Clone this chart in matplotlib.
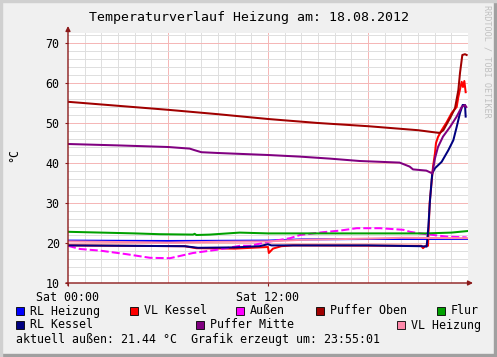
import matplotlib
matplotlib.use("Agg")
import matplotlib.pyplot as plt
from matplotlib.patches import Rectangle
import numpy as np

# hours since Sat 00:00 and temperatures (°C)
rl_heizung_t = [0, 6, 12, 14, 18, 24]
rl_heizung_v = [20.6, 20.5, 20.6, 20.9, 21.0, 21.0]

vl_kessel_t = [0, 7, 7.7, 10, 12, 12.05, 12.3, 12.8, 13.5, 21.2, 21.3, 21.45, 21.6,
               21.7, 21.9, 22.02, 22.08, 22.2, 22.42, 22.72, 23.02, 23.32, 23.42,
               23.62, 23.7, 23.78, 23.86]
vl_kessel_v = [19.4, 19.2, 18.7, 18.6, 19.0, 17.5, 18.6, 19.2, 19.4, 19.3, 18.7, 19.3,
               19.3, 30.0, 39.0, 42.5, 45.0, 46.5, 48.2, 50.2, 52.5, 54.0, 56.5,
               60.3, 59.0, 60.5, 57.7]

aussen_t = [0, 0.72, 1.92, 3.52, 4.92, 6.12, 7.5, 8.92, 10.32, 10.92, 12.02, 13.32,
            13.92, 15.3, 16.32, 17.32, 18.72, 20.12, 20.52, 21.12, 22.12, 22.72, 23.92]
aussen_v = [19.3, 18.5, 18.1, 17.2, 16.3, 16.2, 17.5, 18.3, 19.3, 19.3, 20.3, 21.2,
            22.0, 22.7, 23.1, 23.7, 23.7, 23.3, 22.8, 22.4, 21.9, 21.6, 21.4]

puffer_oben_t = [0, 3, 6, 9, 12, 15, 18, 21, 22.3, 22.52, 22.92, 23.22, 23.42, 23.52,
                 23.66, 23.82, 23.92]
puffer_oben_v = [55.3, 54.3, 53.3, 52.2, 51.0, 50.0, 49.2, 48.2, 47.5, 48.2, 51.2,
                 53.7, 58.2, 62.5, 67.0, 67.2, 67.0]

flur_t = [0, 2, 4, 5.5, 7.5, 7.6, 7.7, 8.5, 10.3, 12, 18, 21.5, 23, 24]
flur_v = [22.8, 22.6, 22.4, 22.2, 22.1, 22.3, 22.0, 22.1, 22.6, 22.4, 22.4, 22.4, 22.6, 23.0]

rl_kessel_t = [0, 7, 7.8, 10, 11.5, 12, 12.2, 18, 21.2, 21.52, 21.62, 21.72, 21.82,
               21.86, 22.02, 22.42, 22.82, 23.12, 23.32, 23.52, 23.68, 23.82, 23.86]
rl_kessel_v = [19.4, 19.2, 18.8, 18.9, 19.2, 19.7, 19.4, 19.4, 19.2, 19.1, 24.0, 30.7,
               35.8, 37.5, 38.7, 40.3, 43.2, 45.7, 49.0, 52.5, 54.5, 54.5, 51.6]

puffer_mitte_t = [0, 3, 6, 7.3, 7.6, 8.0, 9, 12, 13.9, 15.7, 17.5, 19.9, 20.5, 20.7,
                  21.5, 21.86, 22.02, 22.2, 22.5, 22.92, 23.32, 23.62, 23.82, 23.9]
puffer_mitte_v = [44.75, 44.4, 44.0, 43.6, 43.2, 42.7, 42.5, 42.0, 41.6, 41.1, 40.5,
                  40.1, 39.1, 38.4, 38.1, 37.4, 41.2, 44.0, 46.6, 49.0, 51.6, 54.0, 54.5, 54.0]

vl_heizung_t = [0, 6, 9, 12, 14, 18, 20, 24]
vl_heizung_v = [20.4, 20.1, 20.3, 20.4, 20.8, 21.1, 21.3, 21.2]

series = [
    ("RL Heizung", rl_heizung_t, rl_heizung_v, "#0000ff"),
    ("VL Kessel", vl_kessel_t, vl_kessel_v, "#ff0000"),
    ("Außen", aussen_t, aussen_v, "#ff00ff"),
    ("Puffer Oben", puffer_oben_t, puffer_oben_v, "#a00000"),
    ("Flur", flur_t, flur_v, "#00a000"),
    ("RL Kessel", rl_kessel_t, rl_kessel_v, "#000080"),
    ("Puffer Mitte", puffer_mitte_t, puffer_mitte_v, "#800080"),
    ("VL Heizung", vl_heizung_t, vl_heizung_v, "#ff88aa"),
]

x_tick_pos = [0, 12]
x_tick_labels = ["Sat 00:00", "Sat 12:00"]
y_ticks = [10, 20, 30, 40, 50, 60, 70]

W, H = 497, 357
MONO = "DejaVu Sans Mono"
FS = 8.4
AXIS_COL = "#8b1a1a"

fig = plt.figure(figsize=(W / 100, H / 100), dpi=100, facecolor="#f0f0f0")

# 3d-ish frame
fig.patches.append(Rectangle((0, 0), 1, 3 / H, transform=fig.transFigure,
                             color="#a0a0a0", zorder=0))
fig.patches.append(Rectangle((1 - 3 / W, 0), 3 / W, 1, transform=fig.transFigure,
                             color="#a0a0a0", zorder=0))
fig.patches.append(Rectangle((0, 1 - 2 / H), 1, 2 / H, transform=fig.transFigure,
                             color="#d0d0d0", zorder=0))
fig.patches.append(Rectangle((0, 0), 2 / W, 1, transform=fig.transFigure,
                             color="#d0d0d0", zorder=0))

ax = fig.add_axes([68 / W, (H - 283) / H, 400 / W, (283 - 33) / H])
ax.set_facecolor("white")
ax.set_xlim(0, 24)
ax.set_ylim(10, 72.5)

# grid
for h in range(1, 24):
    col = "#f5b5b5" if h % 6 == 0 else "#dedede"
    ax.axvline(h, color=col, lw=0.7, zorder=1)
for v in np.arange(12, 73, 2):
    col = "#f5b5b5" if v % 10 == 0 else "#dedede"
    ax.axhline(v, color=col, lw=0.7, zorder=1)

for name, t, v, c in series:
    if name == "Außen":
        ax.plot(t, v, color=c, lw=1.45, ls=(0, (4, 1.5)), zorder=3)
    else:
        ax.plot(t, v, color=c, lw=1.45, zorder=3)

for s in ax.spines.values():
    s.set_visible(False)

ax.set_xticks(x_tick_pos)
ax.set_xticklabels(x_tick_labels, fontfamily=MONO, fontsize=FS)
ax.set_yticks(y_ticks)
ax.set_yticklabels([str(v) for v in y_ticks], fontfamily=MONO, fontsize=FS)
ax.tick_params(axis="both", length=2, width=0.8, color=AXIS_COL, pad=4)

# axes with arrows
ax.annotate("", xy=(1.0125, 0), xytext=(-0.005, 0), xycoords="axes fraction",
            arrowprops=dict(arrowstyle="-|>", color=AXIS_COL, lw=1, mutation_scale=7,
                            shrinkA=0, shrinkB=0), annotation_clip=False)
ax.annotate("", xy=(0, 1.028), xytext=(0, -0.01), xycoords="axes fraction",
            arrowprops=dict(arrowstyle="-|>", color=AXIS_COL, lw=1, mutation_scale=7,
                            shrinkA=0, shrinkB=0), annotation_clip=False)

fig.text(249 / W, 1 - 17 / H, "Temperaturverlauf Heizung am: 18.08.2012",
         ha="center", va="center", fontfamily=MONO, fontsize=9.5)
fig.text(14 / W, 1 - 155 / H, "°C", rotation=90, ha="center", va="center",
         fontfamily=MONO, fontsize=FS)
fig.text(487 / W, 1 - 5 / H, "RRDTOOL / TOBI OETIKER", rotation=270, ha="center",
         va="top", fontfamily=MONO, fontsize=6.1, color="#c0c0c0")

# legend, laid out like rrdtool does
legend_pos = [(16, 311), (130, 311), (236, 311), (316, 311), (437, 311),
              (16, 325), (196, 325), (397, 325)]
for (name, t, v, c), (lx, ly) in zip(series, legend_pos):
    fig.patches.append(Rectangle((lx / W, 1 - (ly + 4) / H), 8 / W, 8 / H,
                                 transform=fig.transFigure, facecolor=c,
                                 edgecolor="black", lw=0.6))
    fig.text((lx + 14) / W, 1 - ly / H, name, ha="left", va="center",
             fontfamily=MONO, fontsize=FS)

fig.text(16 / W, 1 - 339 / H, "aktuell außen: 21.44 °C  Grafik erzeugt um: 23:55:01",
         ha="left", va="center", fontfamily=MONO, fontsize=FS)

fig.savefig("out.png", dpi=100, facecolor=fig.get_facecolor())
